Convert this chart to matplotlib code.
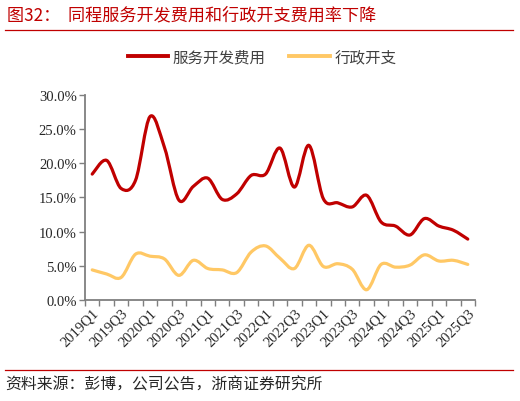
import matplotlib
matplotlib.use("Agg")
import matplotlib.pyplot as plt
from matplotlib.path import Path
from matplotlib.patches import PathPatch
from matplotlib.lines import Line2D
from matplotlib.ticker import FuncFormatter, FixedLocator
import numpy as np

plt.rcParams['font.family'] = ['Noto Sans CJK SC', 'DejaVu Sans']

quarters = ["2019Q1", "2019Q2", "2019Q3", "2019Q4",
            "2020Q1", "2020Q2", "2020Q3", "2020Q4",
            "2021Q1", "2021Q2", "2021Q3", "2021Q4",
            "2022Q1", "2022Q2", "2022Q3", "2022Q4",
            "2023Q1", "2023Q2", "2023Q3", "2023Q4",
            "2024Q1", "2024Q2", "2024Q3", "2024Q4",
            "2025Q1", "2025Q2", "2025Q3"]
service_dev = [18.4, 20.4, 16.3, 17.5, 26.8, 22.3, 14.6, 16.6, 17.8, 14.7,
               15.5, 18.2, 18.4, 22.2, 16.5, 22.6, 14.8, 14.2, 13.6, 15.3,
               11.4, 10.8, 9.5, 11.9, 10.8, 10.2, 8.9]
admin = [4.4, 3.8, 3.3, 6.7, 6.4, 6.0, 3.6, 5.8, 4.6, 4.4,
         4.0, 7.0, 7.9, 6.1, 4.6, 8.0, 4.9, 5.3, 4.5, 1.5,
         5.2, 4.8, 5.1, 6.6, 5.7, 5.8, 5.2]
series_names = ["服务开发费用", "行政开支"]
colors = ["#C00000", "#FFC865"]
title_text = "图32：  同程服务开发费用和行政开支费用率下降"
source_text = "资料来源：彭博，公司公告，浙商证券研究所"


def smooth_path(xs, ys, t=1.0 / 6.0):
    xs = np.asarray(xs, float)
    ys = np.asarray(ys, float)
    n = len(xs)
    verts = [(xs[0], ys[0])]
    codes = [Path.MOVETO]
    for i in range(n - 1):
        p0 = (xs[max(i - 1, 0)], ys[max(i - 1, 0)])
        p1 = (xs[i], ys[i])
        p2 = (xs[i + 1], ys[i + 1])
        p3 = (xs[min(i + 2, n - 1)], ys[min(i + 2, n - 1)])
        c1 = (p1[0] + (p2[0] - p0[0]) * t, p1[1] + (p2[1] - p0[1]) * t)
        c2 = (p2[0] - (p3[0] - p1[0]) * t, p2[1] - (p3[1] - p1[1]) * t)
        verts += [c1, c2, p2]
        codes += [Path.CURVE4] * 3
    return Path(verts, codes)


fig = plt.figure(figsize=(5.2, 4.02), dpi=100)
ax = fig.add_axes([85 / 520, 1 - 301 / 402, 390 / 520, (301 - 95.7) / 402])

x = np.arange(len(quarters))
for vals, col in zip([service_dev, admin], colors):
    p = smooth_path(x, np.array(vals) / 100.0)
    ax.add_patch(PathPatch(p, fill=False, edgecolor=col, lw=2.3,
                           capstyle='round', joinstyle='round'))

ax.set_xlim(-0.5, len(quarters) - 0.5)
ax.set_ylim(0, 0.30)
ax.set_yticks(np.arange(0, 0.301, 0.05))
ax.yaxis.set_major_formatter(FuncFormatter(lambda v, p: f"{v*100:.1f}%"))

ax.set_xticks(x[::2])
ax.set_xticklabels(quarters[::2])
ax.xaxis.set_minor_locator(FixedLocator(np.arange(-0.5, len(quarters), 1.0)))
ax.tick_params(axis='x', which='major', length=0, pad=4)
ax.tick_params(axis='x', which='minor', length=4, width=1, color='#7F7F7F', direction='out')
ax.tick_params(axis='y', length=4, width=1, color='#7F7F7F', direction='out', pad=2)
for lab in ax.get_xticklabels():
    lab.set_rotation(45)
    lab.set_ha('right')
    lab.set_va('top')
    lab.set_rotation_mode('anchor')
    lab.set_fontfamily('Liberation Serif')
    lab.set_fontsize(10.5)
    lab.set_color('#262626')
for lab in ax.get_yticklabels():
    lab.set_fontfamily('Liberation Serif')
    lab.set_fontsize(10.5)
    lab.set_color('#262626')

for s in ['top', 'right']:
    ax.spines[s].set_visible(False)
for s in ['left', 'bottom']:
    ax.spines[s].set_color('#7F7F7F')
    ax.spines[s].set_linewidth(1.3)

handles = [Line2D([], [], color=c, lw=2.8) for c in colors]
fig.legend(handles, series_names, loc='center', bbox_to_anchor=(262 / 520, 1 - 58 / 402),
           ncol=2, frameon=False, handlelength=2.6, columnspacing=1.5, handletextpad=0.3,
           prop={'family': ['Noto Sans CJK SC', 'DejaVu Sans'], 'size': 11.2},
           labelcolor='#404040')

fig.text(7 / 520, 1 - 15 / 402, title_text, color='#C00000', fontsize=12.3,
         ha='left', va='center')
fig.add_artist(Line2D([5 / 520, 513 / 520], [1 - 31 / 402, 1 - 31 / 402],
                      color='#C00000', lw=0.9))
fig.add_artist(Line2D([5 / 520, 513 / 520], [1 - 371 / 402, 1 - 371 / 402],
                      color='#C00000', lw=0.9))
fig.text(5 / 520, 1 - 385 / 402, source_text, color='#262626', fontsize=11.4,
         ha='left', va='center')

fig.savefig("out.png", dpi=100)
